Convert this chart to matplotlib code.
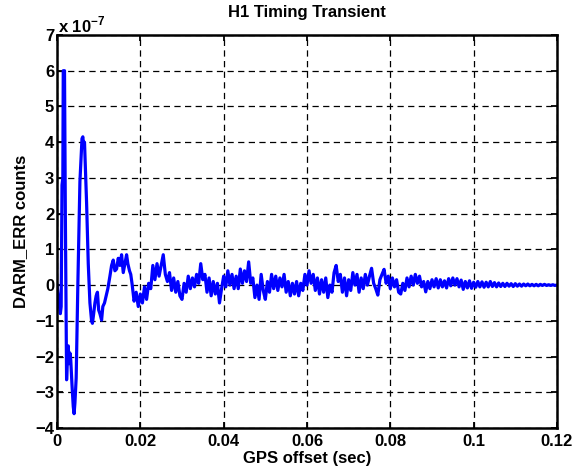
import numpy as np
import matplotlib
matplotlib.use('Agg')
import matplotlib.pyplot as plt

plt.rcParams['font.family'] = ['Liberation Sans', 'DejaVu Sans']
plt.rcParams['font.weight'] = 'bold'
plt.rcParams['mathtext.fontset'] = 'custom'
plt.rcParams['mathtext.rm'] = 'Liberation Sans:bold'
plt.rcParams['mathtext.bf'] = 'Liberation Sans:bold'

# early part of the transient (time in sec, DARM_ERR in units of 1e-7)
t_early = [0.0000, 0.0003, 0.0008, 0.0010, 0.0012, 0.0014, 0.0015, 0.0018, 0.0020,
           0.0023, 0.0025, 0.0027, 0.0029, 0.0031, 0.0033, 0.0036, 0.0039, 0.0041,
           0.0043, 0.0046, 0.0050, 0.0055, 0.0060, 0.0062, 0.0064, 0.0066, 0.0069,
           0.0071, 0.0075, 0.0079, 0.0083, 0.0085, 0.0088, 0.0091, 0.0094, 0.0097,
           0.0100, 0.0103, 0.0107, 0.0110, 0.0114, 0.0118, 0.0122, 0.0127, 0.0131,
           0.0135, 0.0139, 0.0143, 0.0147, 0.0151, 0.0155, 0.0159, 0.0163, 0.0167,
           0.0170, 0.0174, 0.0177]
v_early = [0.0, -0.3, -0.8, -0.6, 2.8, 3.0, 6.0, 6.0, 2.0,
           -2.65, -2.0, -1.7, -2.2, -1.9, -2.1, -2.8, -3.4, -3.6,
           -3.3, -2.6, 0.0, 2.9, 4.1, 4.15, 3.9, 4.0, 3.0,
           2.3, 0.6, -0.5, -1.0, -1.07, -0.8, -0.5, -0.3, -0.2,
           -0.7, -0.8, -0.98, -0.6, -0.5, -0.3, -0.1, 0.25, 0.55,
           0.7, 0.4, 0.45, 0.75, 0.55, 0.85, 0.35, 0.6, 0.85,
           0.6, 0.4, 0.3]

# ringdown, every 0.5 ms from 0.018 to 0.12 sec
v_late = [0.05, -0.45, -0.20, -0.60, -0.25, -0.50, -0.05, -0.40, 0.05, -0.10,
          0.55, 0.15, 0.60, 0.25, 0.55, 0.85, 0.30, 0.10, 0.35, -0.15,
          0.20, -0.20, 0.10, -0.30, -0.40, 0.05, -0.20, 0.25, -0.10, 0.20,
          -0.05, 0.30, 0.05, 0.60, 0.15, 0.30, -0.20, 0.20, -0.30, 0.10,
          -0.25, 0.05, -0.50, -0.10, 0.25, -0.05, 0.40, 0.00, 0.30, -0.10,
          0.25, -0.10, 0.45, 0.05, 0.40, 0.10, 0.65, 0.05, 0.20, -0.35,
          0.00, -0.40, 0.30, -0.15, -0.40, 0.10, -0.20, 0.30, -0.10, 0.25,
          -0.15, 0.20, -0.05, 0.30, -0.20, 0.10, -0.30, 0.05, -0.25, 0.10,
          -0.30, 0.05, -0.15, 0.30, 0.00, 0.40, 0.05, 0.30, -0.15, 0.20,
          -0.25, 0.15, -0.20, 0.20, -0.35, 0.00, -0.20, 0.35, 0.55, 0.10,
          0.30, -0.20, 0.20, -0.30, 0.15, -0.15, 0.35, 0.00, 0.30, -0.20,
          0.20, -0.10, 0.30, 0.00, 0.25, 0.47, 0.05, -0.10, -0.28, 0.15,
          0.30, 0.44, 0.05, 0.25, -0.10, 0.20, -0.05, 0.15, -0.20, -0.25,
          0.05, -0.15, 0.20, -0.05, 0.25, 0.00, 0.30, 0.05, 0.25, -0.05,
          0.10, -0.19, 0.10, -0.10, 0.15, -0.05, 0.18, -0.08, 0.15, -0.05,
          0.12, -0.08, 0.18, -0.02, 0.20, 0.00, 0.18, -0.05, 0.14, -0.12,
          0.10, -0.08, 0.12, -0.09, 0.08, -0.06, 0.10, -0.05, 0.09, -0.06,
          0.08, -0.05, 0.10, -0.04, 0.07, -0.05, 0.06, -0.04, 0.05, -0.04,
          0.05, -0.03, 0.04, -0.04, 0.04, -0.03, 0.03, -0.03, 0.03, -0.02,
          0.03, -0.02, 0.02, -0.02, 0.02, -0.02, 0.02, -0.01, 0.02, -0.01,
          0.01, -0.01, 0.01, -0.01, 0.00]
t_late = 0.018 + 0.0005 * np.arange(len(v_late))

t = np.concatenate([t_early, t_late])
darm = np.concatenate([v_early, v_late])

xticks = [0, 0.02, 0.04, 0.06, 0.08, 0.1, 0.12]
xticklabels = ['0', '0.02', '0.04', '0.06', '0.08', '0.1', '0.12']
yticks = list(range(-4, 8))

fig = plt.figure(figsize=(5.77, 4.71), dpi=100)
ax = fig.add_axes([0.0988, 0.0913, 0.8665, 0.8344])
ax.plot(t, darm, color='#0000ff', linewidth=2.3)

ax.set_xlim(0, 0.12)
ax.set_ylim(-4, 7)
ax.set_xticks(xticks)
ax.set_xticklabels(xticklabels)
ax.set_yticks(yticks)
ax.set_yticklabels([str(y).replace('-', '\u2212') for y in yticks])

ax.grid(True, color='black', linestyle=(0, (5, 3.5)), linewidth=0.9)
for s in ax.spines.values():
    s.set_linewidth(1.8)
ax.tick_params(direction='in', length=4, width=1.3, top=True, right=True,
               labelsize=12, pad=2)
ax.tick_params(axis='x', pad=4)

ax.text(0.002, 1.0, r'x 10$^{-7}$', transform=ax.transAxes,
        fontsize=12, fontweight='bold', ha='left', va='bottom')
ax.set_title('H1 Timing Transient', fontsize=12, fontweight='bold', pad=13)
ax.set_xlabel('GPS offset (sec)', fontsize=12, fontweight='bold', labelpad=2)
ax.set_ylabel('DARM_ERR counts', fontsize=12, fontweight='bold', labelpad=5)

plt.savefig('out.png', dpi=100)
